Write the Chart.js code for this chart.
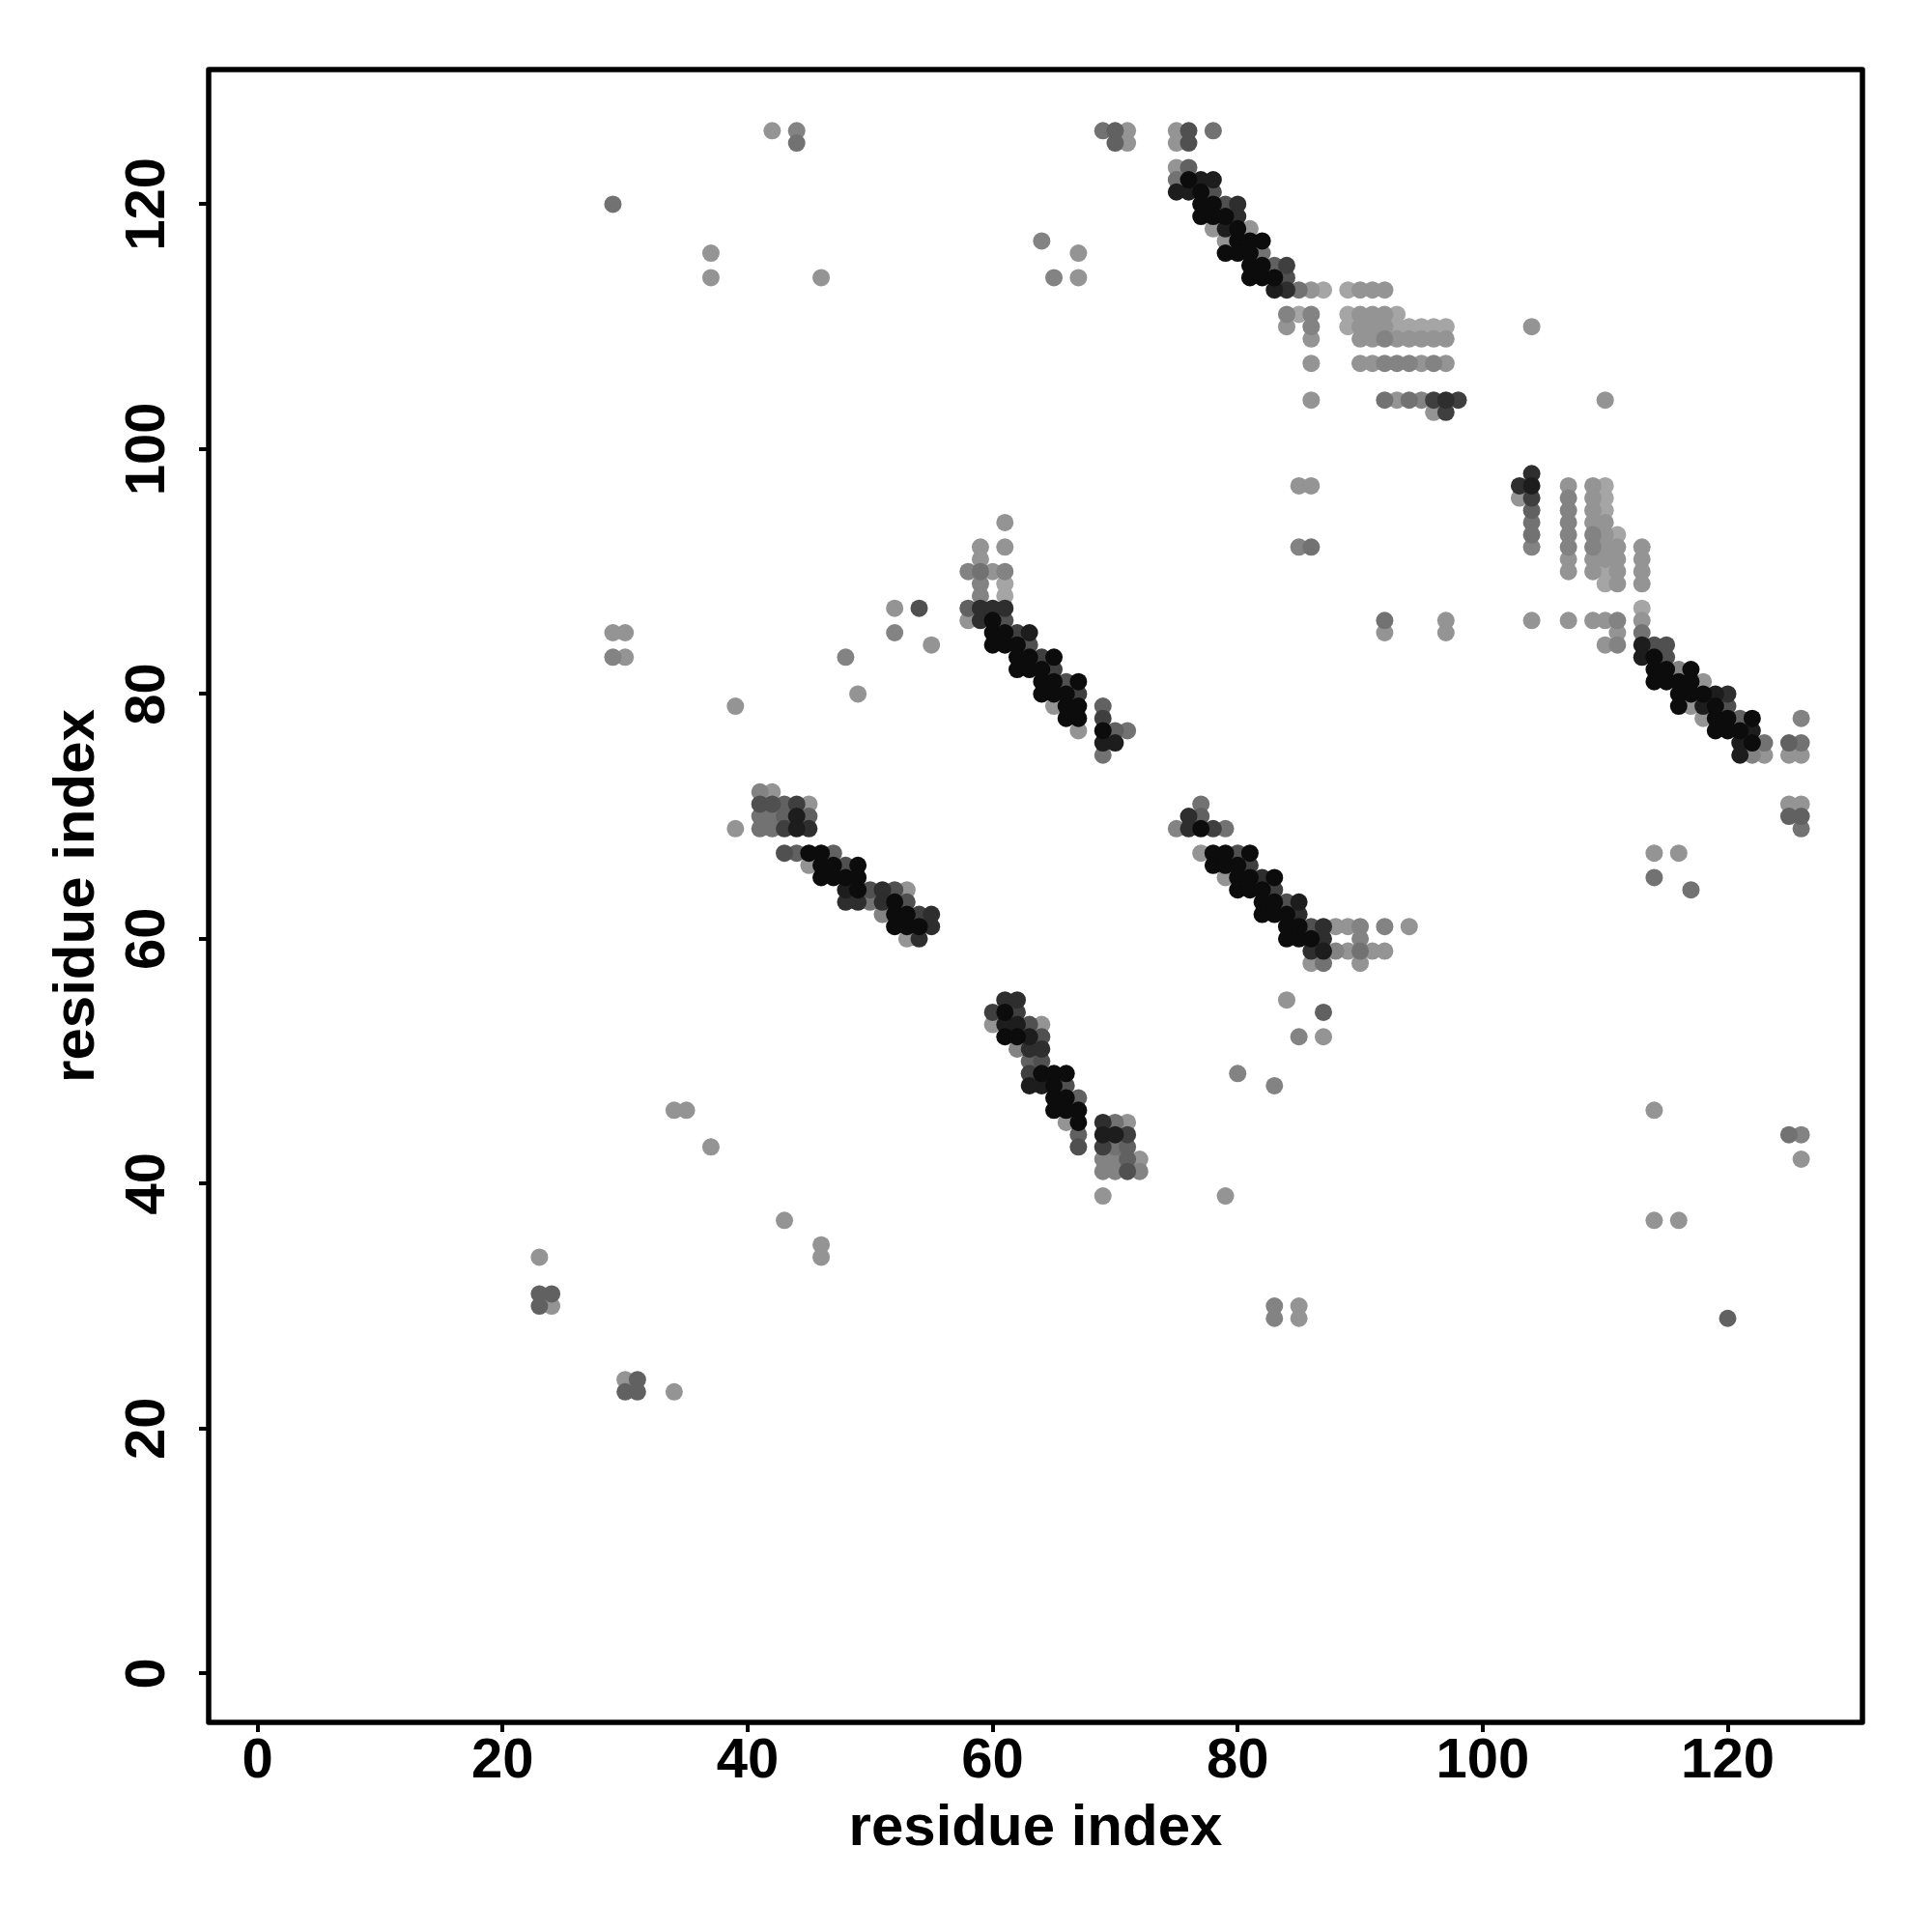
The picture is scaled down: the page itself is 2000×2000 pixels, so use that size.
<!DOCTYPE html>
<html>
<head>
<meta charset="utf-8">
<title>residue contact map</title>
<script src="https://cdn.jsdelivr.net/npm/chart.js@4.4.1/dist/chart.umd.min.js"></script>
<style>
  html, body { margin: 0; padding: 0; background: #ffffff; }
  canvas { display: block; }
</style>
</head>
<body>
<canvas id="contactMap" width="2000" height="2000" style="width:2000px;height:2000px"></canvas>
<script>
// Contact map data.
// *_J = residue j of each row, *_I = residues i in that row, *_S = contact score (0 light .. 0.9 black)

// upper right diagonal (75-98 x 103-126)
const bandA_J = [126, 125, 123, 122, 121, 120, 119, 118, 117, 116, 115, 114, 113, 111, 110, 109, 107, 104, 103];
const bandA_I = [
    [75, 76, 78], [75, 76], [75, 76], [75, 76, 77, 78], [75, 76, 77, 78],
    [77, 78, 79, 80], [77, 78, 79, 80], [78, 79, 80, 81], [79, 80, 81, 82], [79, 80, 81, 82],
    [81, 82, 83, 84], [81, 82, 83, 84],
    [83, 84, 85, 86, 87, 89, 90, 91, 92],
    [84, 85, 86, 89, 90, 91, 92, 93],
    [84, 86, 89, 90, 91, 92, 93, 94, 95, 96, 97, 104],
    [86, 90, 91, 92, 93, 94, 95, 96, 97],
    [86, 90, 91, 92, 93, 94, 95, 96, 97],
    [86, 92, 93, 94, 95, 96, 97, 98, 110],
    [96, 97]
];
const bandA_S = [
    [0.1, 0.5, 0.3], [0.1, 0.5], [0.1, 0.4], [0.3, 0.9, 0.8, 0.8], [0.8, 0.8, 0.9, 0.5],
    [0.9, 0.9, 0.5, 0.7], [0.9, 0.9, 0.9, 0.7], [0.1, 0.8, 0.9, 0.1], [0.1, 0.9, 0.9, 0.9], [0.9, 0.9, 0.9, 0.3],
    [0.9, 0.9, 0.4, 0.6], [0.9, 0.9, 0.9, 0.5],
    [0.8, 0.7, 0.3, 0.1, 0.0, 0.0, 0.1, 0.1, 0.1],
    [0.2, 0.0, 0.2, 0.0, 0.1, 0.1, 0.1, 0.0],
    [0.1, 0.2, 0.0, 0.1, 0.1, 0.1, 0.0, 0.0, 0.0, 0.0, 0.0, 0.1],
    [0.1, 0.1, 0.1, 0.2, 0.1, 0.1, 0.1, 0.1, 0.1],
    [0.1, 0.1, 0.1, 0.2, 0.2, 0.2, 0.1, 0.2, 0.1],
    [0.1, 0.3, 0.1, 0.3, 0.2, 0.6, 0.7, 0.6, 0.1],
    [0.1, 0.6]
];

// scattered contacts near the top
const topJ = [126, 125, 120, 117, 116, 114];
const topI = [[42, 44, 69, 70, 71], [44, 70, 71], [29], [64], [37, 67], [37, 46, 65, 67]];
const topS = [[0.1, 0.2, 0.3, 0.4, 0.1], [0.3, 0.4, 0.1], [0.3], [0.2], [0.1, 0.1], [0.1, 0.1, 0.2, 0.1]];

// right diagonal (103-126 x 64-98)
const bandB_J = [98, 97, 96, 95, 94, 93, 92, 91, 90, 89, 87, 86, 85, 84, 83, 82, 81, 80, 79, 78, 77, 76, 75, 71, 70, 69, 67, 65, 64];
const bandB_I = [
    [104],
    [85, 86, 103, 104, 107, 109, 110],
    [103, 104, 107, 109, 110],
    [104, 107, 109, 110],
    [104, 107, 109, 110],
    [104, 107, 109, 110, 111],
    [85, 86, 104, 107, 109, 110, 111, 113],
    [107, 109, 110, 111, 113],
    [107, 109, 110, 111, 113],
    [110, 111, 113],
    [113],
    [92, 97, 104, 107, 109, 110, 111, 113],
    [92, 97, 111, 113],
    [110, 111, 113, 114, 115],
    [113, 114, 115],
    [114, 115, 116, 117],
    [114, 115, 116, 117, 118],
    [116, 117, 118, 119, 120],
    [116, 117, 118, 119, 120],
    [118, 119, 120, 121, 122, 126],
    [119, 120, 121, 122],
    [121, 122, 123, 125, 126],
    [121, 122, 123, 125, 126],
    [125, 126], [125, 126], [126],
    [114, 116], [114], [117]
];
const bandB_S = [
    [0.7],
    [0.1, 0.1, 0.7, 0.8, 0.1, 0.1, 0.0],
    [0.1, 0.6, 0.2, 0.1, 0.0],
    [0.4, 0.2, 0.1, 0.0],
    [0.3, 0.2, 0.1, 0.1],
    [0.3, 0.2, 0.2, 0.1, 0.0],
    [0.2, 0.3, 0.2, 0.2, 0.2, 0.1, 0.1, 0.1],
    [0.1, 0.1, 0.1, 0.1, 0.1],
    [0.1, 0.1, 0.0, 0.1, 0.1],
    [0.0, 0.1, 0.1],
    [0.0],
    [0.3, 0.1, 0.1, 0.1, 0.1, 0.1, 0.2, 0.1],
    [0.1, 0.1, 0.1, 0.3],
    [0.1, 0.2, 0.8, 0.5, 0.5],
    [0.8, 0.9, 0.5],
    [0.9, 0.9, 0.2, 0.9],
    [0.9, 0.9, 0.9, 0.9, 0.1],
    [0.9, 0.9, 0.9, 0.8, 0.7],
    [0.9, 0.1, 0.8, 0.9, 0.5],
    [0.1, 0.9, 0.9, 0.4, 0.9, 0.2],
    [0.9, 0.9, 0.9, 0.8],
    [0.8, 0.9, 0.3, 0.4, 0.3],
    [0.8, 0.2, 0.1, 0.1, 0.1],
    [0.1, 0.1], [0.4, 0.4], [0.3],
    [0.1, 0.1], [0.3], [0.3]
];

// middle diagonal (58-71 x 75-94) plus stray points on the left
const bandC_J = [94, 92, 91, 90, 89, 88, 87, 86, 85, 84, 83, 82, 81, 80, 79, 78, 77, 76, 75];
const bandC_I = [
    [61], [59, 61], [59], [58, 59, 60, 61], [59, 61], [59, 61],
    [52, 54, 58, 59, 60, 61],
    [58, 59, 60, 61],
    [29, 30, 52, 60, 61, 62, 63],
    [55, 60, 61, 62, 63],
    [29, 30, 48, 62, 63, 64, 65],
    [62, 63, 64, 65],
    [64, 65, 66, 67],
    [49, 64, 65, 66, 67],
    [39, 65, 66, 67, 69],
    [66, 67, 69],
    [67, 69, 70, 71],
    [69, 70],
    [69]
];
const bandC_S = [
    [0.1], [0.1, 0.1], [0.1], [0.2, 0.3, 0.1, 0.2], [0.2, 0.0], [0.2, 0.0],
    [0.1, 0.5, 0.4, 0.7, 0.7, 0.7],
    [0.1, 0.7, 0.9, 0.5],
    [0.1, 0.1, 0.2, 0.9, 0.9, 0.6, 0.8],
    [0.1, 0.9, 0.9, 0.9, 0.5],
    [0.2, 0.1, 0.2, 0.9, 0.9, 0.6, 0.9],
    [0.9, 0.9, 0.9, 0.6],
    [0.9, 0.9, 0.5, 0.9],
    [0.1, 0.9, 0.9, 0.9, 0.6],
    [0.1, 0.1, 0.9, 0.9, 0.4],
    [0.9, 0.9, 0.6],
    [0.1, 0.9, 0.4, 0.3],
    [0.8, 0.8],
    [0.3]
];

// left diagonal (39-55 x 60-72)
const bandD_J = [72, 71, 70, 69, 67, 66, 65, 64, 63, 62, 61, 60];
const bandD_I = [
    [41, 42],
    [41, 42, 43, 44, 45],
    [41, 42, 43, 44, 45],
    [39, 41, 42, 43, 44, 45],
    [43, 44, 45, 46, 47],
    [45, 46, 47, 48, 49],
    [46, 47, 48, 49],
    [48, 49, 50, 51, 52, 53],
    [48, 49, 50, 51, 52, 53],
    [51, 52, 53, 54, 55],
    [52, 53, 54, 55],
    [53, 54]
];
const bandD_S = [
    [0.2, 0.1],
    [0.5, 0.5, 0.4, 0.6, 0.1],
    [0.3, 0.3, 0.4, 0.8, 0.4],
    [0.1, 0.3, 0.3, 0.6, 0.8, 0.7],
    [0.5, 0.4, 0.9, 0.9, 0.4],
    [0.1, 0.9, 0.9, 0.5, 0.9],
    [0.9, 0.9, 0.9, 0.9],
    [0.8, 0.9, 0.5, 0.7, 0.5, 0.1],
    [0.7, 0.7, 0.3, 0.7, 0.9, 0.5],
    [0.2, 0.9, 0.9, 0.6, 0.7],
    [0.9, 0.9, 0.9, 0.7],
    [0.1, 0.7]
];

// centre right diagonal (75-94 x 52-71)
const bandE_J = [71, 70, 69, 67, 66, 65, 64, 63, 62, 61, 60, 59, 58, 55, 54, 52];
const bandE_I = [
    [77], [76, 77],
    [75, 76, 77, 78, 79],
    [77, 78, 79, 80, 81],
    [78, 79, 80, 81],
    [79, 80, 81, 82, 83],
    [80, 81, 82, 83],
    [82, 83, 84, 85],
    [82, 83, 84, 85],
    [84, 85, 86, 87, 88, 89, 90, 92, 94],
    [84, 85, 86, 87, 90],
    [86, 87, 88, 89, 90, 91, 92],
    [86, 87, 90],
    [84], [87], [85, 87]
];
const bandE_S = [
    [0.3], [0.7, 0.4],
    [0.2, 0.7, 0.9, 0.6, 0.3],
    [0.1, 0.9, 0.9, 0.5, 0.9],
    [0.9, 0.9, 0.9, 0.6],
    [0.1, 0.9, 0.9, 0.7, 0.9],
    [0.9, 0.9, 0.9, 0.6],
    [0.9, 0.9, 0.5, 0.8],
    [0.9, 0.9, 0.9, 0.7],
    [0.9, 0.9, 0.5, 0.7, 0.1, 0.1, 0.2, 0.2, 0.1],
    [0.9, 0.9, 0.9, 0.7, 0.2],
    [0.7, 0.8, 0.2, 0.1, 0.3, 0.1, 0.1],
    [0.1, 0.3, 0.1],
    [0.1], [0.4], [0.2, 0.1]
];

// lower diagonal (60-72 x 39-55) plus stray points at the same rows
const bandF_J = [55, 54, 53, 52, 51, 50, 49, 48, 47, 46, 45, 44, 43, 42, 41, 39];
const bandF_I = [
    [61, 62],
    [60, 61, 62],
    [60, 61, 62, 63, 64],
    [61, 62, 63, 64],
    [62, 63, 64],
    [63, 64],
    [63, 64, 65, 66, 80],
    [63, 64, 65, 66, 83],
    [65, 66, 67],
    [34, 35, 65, 66, 67, 114],
    [66, 67, 69, 70, 71],
    [67, 69, 70, 71, 125, 126],
    [37, 67, 69, 70, 71],
    [69, 70, 71, 72, 126],
    [69, 70, 71, 72],
    [69, 79]
];
const bandF_S = [
    [0.7, 0.7],
    [0.6, 0.9, 0.6],
    [0.1, 0.8, 0.8, 0.5, 0.1],
    [0.9, 0.9, 0.8, 0.5],
    [0.2, 0.7, 0.7],
    [0.4, 0.5],
    [0.6, 0.9, 0.9, 0.9, 0.2],
    [0.8, 0.8, 0.9, 0.5, 0.2],
    [0.9, 0.9, 0.4],
    [0.1, 0.1, 0.9, 0.9, 0.9, 0.1],
    [0.1, 0.9, 0.7, 0.3, 0.1],
    [0.4, 0.8, 0.8, 0.6, 0.3, 0.2],
    [0.1, 0.5, 0.6, 0.3, 0.4],
    [0.2, 0.2, 0.4, 0.1, 0.1],
    [0.2, 0.2, 0.5, 0.2],
    [0.1, 0.1]
];

// scattered contacts near the bottom
const lowJ = [37, 35, 34, 31, 30, 29, 24, 23];
const lowI = [[43, 114, 116], [46], [23, 46], [23, 24], [23, 24, 83, 85], [83, 85, 120], [30, 31], [30, 31, 34]];
const lowS = [[0.1, 0.1, 0.1], [0.1], [0.1, 0.1], [0.4, 0.4], [0.4, 0.1, 0.2, 0.1], [0.2, 0.1, 0.4], [0.1, 0.4], [0.4, 0.4, 0.1]];

const tickValues = [0, 20, 40, 60, 80, 100, 120];
const axisMin = -4;
const axisMax = 131;
const axisTitle = 'residue index';

// flatten rows into points, light first so dark contacts end up on top
const bands = [
    [bandA_J, bandA_I, bandA_S], [topJ, topI, topS], [bandB_J, bandB_I, bandB_S],
    [bandC_J, bandC_I, bandC_S], [bandD_J, bandD_I, bandD_S], [bandE_J, bandE_I, bandE_S],
    [bandF_J, bandF_I, bandF_S], [lowJ, lowI, lowS]
];
const points = [];
bands.forEach(([rowJ, rowI, rowS], b) => {
    rowJ.forEach((j, r) => {
        if (rowI[r].length !== rowS[r].length) console.warn('row mismatch', b, j);
        rowI[r].forEach((i, k) => points.push({ x: i, y: j, s: rowS[r][k] }));
    });
});
points.sort((a, b) => a.s - b.s);

function shade(s) {
    const g = Math.round(165 - 170 * s);
    return `rgb(${g}, ${g}, ${g})`;
}

const tickFont = 'bold 58px "Liberation Sans", Arial, Helvetica, sans-serif';
const titleFont = 'bold 60px "Liberation Sans", Arial, Helvetica, sans-serif';

// box around the plot, tick labels and axis titles in R style
const frameAndLabels = {
    id: 'frameAndLabels',
    afterDraw(chart) {
        const { ctx, chartArea } = chart;
        const xs = chart.scales.x;
        const ys = chart.scales.y;
        ctx.save();
        ctx.strokeStyle = '#000';
        ctx.lineWidth = 5.5;
        ctx.lineJoin = 'round';
        ctx.strokeRect(chartArea.left, chartArea.top, chartArea.right - chartArea.left, chartArea.bottom - chartArea.top);

        ctx.fillStyle = '#000';
        ctx.font = tickFont;
        ctx.textAlign = 'center';
        ctx.textBaseline = 'alphabetic';
        tickValues.forEach(v => {
            ctx.fillText(String(v), xs.getPixelForValue(v), chartArea.bottom + 57);
        });
        tickValues.forEach(v => {
            ctx.save();
            ctx.translate(chartArea.left - 46, ys.getPixelForValue(v));
            ctx.rotate(-Math.PI / 2);
            ctx.fillText(String(v), 0, 0);
            ctx.restore();
        });

        ctx.font = titleFont;
        ctx.fillText(axisTitle, (chartArea.left + chartArea.right) / 2, chartArea.bottom + 127);
        ctx.save();
        ctx.translate(chartArea.left - 119, (chartArea.top + chartArea.bottom) / 2);
        ctx.rotate(-Math.PI / 2);
        ctx.fillText(axisTitle, 0, 0);
        ctx.restore();
        ctx.restore();
    }
};

const axisStyle = {
    type: 'linear',
    min: axisMin,
    max: axisMax,
    afterBuildTicks: scale => { scale.ticks = tickValues.map(v => ({ value: v })); },
    ticks: { display: false },
    border: { display: false },
    grid: {
        drawOnChartArea: false,
        drawTicks: true,
        tickLength: 10,
        lineWidth: 4,
        color: '#000'
    }
};

const contactChart = new Chart(document.getElementById('contactMap'), {
    type: 'scatter',
    data: {
        datasets: [{
            data: points,
            pointRadius: 9,
            pointHoverRadius: 9,
            pointBorderWidth: 0,
            borderWidth: 0,
            backgroundColor: c => shade(c.raw ? c.raw.s : 0)
        }]
    },
    options: {
        responsive: false,
        animation: false,
        devicePixelRatio: 1,
        events: [],
        layout: { padding: { left: 0, top: 72, right: 72, bottom: 0 } },
        plugins: {
            legend: { display: false },
            tooltip: { enabled: false }
        },
        scales: {
            x: { ...axisStyle, position: 'bottom', afterFit: s => { s.height = 217; } },
            y: { ...axisStyle, position: 'left', afterFit: s => { s.width = 216; } }
        }
    },
    plugins: [frameAndLabels]
});
</script>
</body>
</html>
